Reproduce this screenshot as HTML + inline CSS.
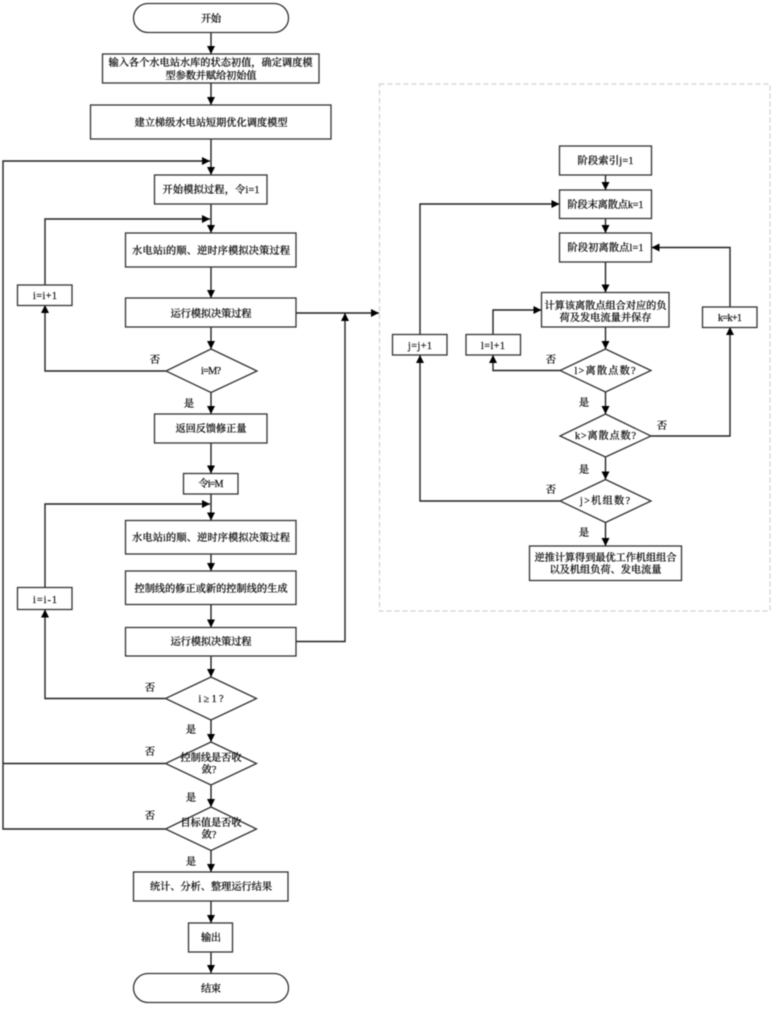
<!DOCTYPE html>
<html lang="zh">
<head>
<meta charset="utf-8">
<style>
html,body{margin:0;padding:0;background:#fff;width:777px;height:1011px;overflow:hidden}
svg{display:block;filter:blur(0.4px)}
text{font-family:"Liberation Serif","Noto Serif CJK SC",serif;font-size:10.2px;fill:#111;stroke:#111;stroke-width:.22;text-anchor:middle;font-weight:500}
.b{fill:#fff;stroke:#333;stroke-width:1.3}
.l{fill:none;stroke:#222;stroke-width:1.4}
.a{fill:#000;stroke:none}
.d{fill:none;stroke:#d0d0d0;stroke-width:1.2;stroke-dasharray:5 3}
</style>
</head>
<body>
<svg width="777" height="1011" viewBox="0 0 777 1011" xmlns="http://www.w3.org/2000/svg">
<defs>
<marker id="m" viewBox="0 0 8 8" refX="8" refY="4" markerWidth="8" markerHeight="8" markerUnits="userSpaceOnUse" orient="auto"><path class="a" d="M0 0L8 4L0 8Z"/></marker>
</defs>
<rect class="d" x="379.5" y="84" width="390.5" height="527"/>

<g class="l">
<path marker-end="url(#m)" d="M211 32V54"/>
<path marker-end="url(#m)" d="M211 83V105"/>
<path marker-end="url(#m)" d="M211 139V175"/>
<path marker-end="url(#m)" d="M211 204V233"/>
<path marker-end="url(#m)" d="M211 267V298"/>
<path marker-end="url(#m)" d="M211 327V349"/>
<path marker-end="url(#m)" d="M211 392V414"/>
<path marker-end="url(#m)" d="M211 443V473.5"/>
<path marker-end="url(#m)" d="M211 494V520.5"/>
<path marker-end="url(#m)" d="M211 554V571"/>
<path marker-end="url(#m)" d="M211 604.5V627.5"/>
<path marker-end="url(#m)" d="M211 656V677"/>
<path marker-end="url(#m)" d="M211 720V742"/>
<path marker-end="url(#m)" d="M211 785V807"/>
<path marker-end="url(#m)" d="M211 850.5V872"/>
<path marker-end="url(#m)" d="M211 901V923"/>
<path marker-end="url(#m)" d="M211 952V973"/>
<path marker-end="url(#m)" d="M165.5 829H3V161H210"/>
<path d="M165.5 763.5H3"/>
<path marker-end="url(#m)" d="M45 285V219H210"/>
<path marker-end="url(#m)" d="M166 371H45V305"/>
<path marker-end="url(#m)" d="M45 587.5V504H210"/>
<path marker-end="url(#m)" d="M165.5 698.5H45V609.5"/>
<path marker-end="url(#m)" d="M296 313H379"/>
<path marker-end="url(#m)" d="M296 641.5H345V313"/>
<path marker-end="url(#m)" d="M605.5 175V190"/>
<path marker-end="url(#m)" d="M605.5 218.5V233"/>
<path marker-end="url(#m)" d="M605.5 262V292.5"/>
<path marker-end="url(#m)" d="M605.5 327V349"/>
<path marker-end="url(#m)" d="M605.5 392V414"/>
<path marker-end="url(#m)" d="M605.5 457V479.5"/>
<path marker-end="url(#m)" d="M605.5 522V546"/>
<path marker-end="url(#m)" d="M420 334.5V204H559.5"/>
<path marker-end="url(#m)" d="M493 334.5V310H541.5"/>
<path marker-end="url(#m)" d="M730 307V247.5H651.5"/>
<path marker-end="url(#m)" d="M560 370.5H493V355"/>
<path marker-end="url(#m)" d="M651 436H730V327"/>
<path marker-end="url(#m)" d="M560 501H420V355"/>
</g>

<rect class="b" x="133.5" y="3.5" width="155" height="29" rx="14.5"/>
<rect class="b" x="102.5" y="54" width="216.5" height="29"/>
<rect class="b" x="90.5" y="105" width="240.5" height="34"/>
<rect class="b" x="154.5" y="175" width="112.5" height="29"/>
<rect class="b" x="125.5" y="233" width="170.5" height="34"/>
<rect class="b" x="17.5" y="285" width="54.5" height="20.5"/>
<rect class="b" x="125.5" y="298" width="170.5" height="29"/>
<polygon class="b" points="211,349 257,371 211,392.5 166,371"/>
<rect class="b" x="154.5" y="414" width="112.5" height="29"/>
<rect class="b" x="183.5" y="473.5" width="54.5" height="20.5"/>
<rect class="b" x="125.5" y="520.5" width="170.5" height="33.5"/>
<rect class="b" x="125.5" y="571" width="170.5" height="33.5"/>
<rect class="b" x="125.5" y="627.5" width="170.5" height="28.5"/>
<rect class="b" x="17.5" y="587.5" width="54.5" height="22"/>
<polygon class="b" points="211,677 256.5,698.5 211,720 165.5,698.5"/>
<polygon class="b" points="211,742 256.5,763.5 211,785 165.5,763.5"/>
<polygon class="b" points="211,807 256.5,829 211,850.5 165.5,829"/>
<rect class="b" x="133.5" y="872" width="154.5" height="29"/>
<rect class="b" x="188.5" y="923" width="44" height="29"/>
<rect class="b" x="133.5" y="973.5" width="155" height="29" rx="14.5"/>

<rect class="b" x="559.5" y="146" width="92" height="29"/>
<rect class="b" x="559.5" y="190" width="92" height="28.5"/>
<rect class="b" x="559.5" y="233" width="92" height="29"/>
<rect class="b" x="541.5" y="292.5" width="127.5" height="34.5"/>
<rect class="b" x="392.5" y="334.5" width="54.5" height="20.5"/>
<rect class="b" x="466" y="334.5" width="54.5" height="20.5"/>
<rect class="b" x="702.5" y="307" width="54.5" height="20.5"/>
<polygon class="b" points="605.5,349 651,370.5 605.5,392 560,370.5"/>
<polygon class="b" points="605.5,414 651,436 605.5,457 560,436"/>
<polygon class="b" points="605.5,479.5 651,501 605.5,522.5 560,501"/>
<rect class="b" x="529.5" y="546" width="152" height="34.5"/>

<text x="211" y="22" textLength="20">开始</text>
<text x="210.5" y="66" textLength="204">输入各个水电站水库的状态初值，确定调度模</text>
<text x="211" y="79" textLength="91">型参数并赋给初始值</text>
<text x="211" y="126" textLength="153">建立梯级水电站短期优化调度模型</text>
<text x="211" y="193" textLength="97">开始模拟过程，令i=1</text>
<text x="211" y="254" textLength="158">水电站i的顺、逆时序模拟决策过程</text>
<text x="45" y="299" textLength="24">i=i+1</text>
<text x="211" y="317" textLength="81">运行模拟决策过程</text>
<text x="155" y="363">否</text>
<text x="211" y="374" textLength="20">i=M?</text>
<text x="189" y="407">是</text>
<text x="211" y="432" textLength="71">返回反馈修正量</text>
<text x="211" y="487" textLength="25">令i=M</text>
<text x="211" y="541" textLength="158">水电站i的顺、逆时序模拟决策过程</text>
<text x="211" y="592" textLength="153">控制线的修正或新的控制线的生成</text>
<text x="211" y="645" textLength="81">运行模拟决策过程</text>
<text x="45" y="603" textLength="24">i=i-1</text>
<text x="150" y="691">否</text>
<text x="211" y="702" textLength="25">i≥1?</text>
<text x="191" y="733">是</text>
<text x="150" y="755">否</text>
<text x="211" y="761" textLength="61">控制线是否收</text>
<text x="209" y="773">敛?</text>
<text x="191" y="801">是</text>
<text x="150" y="819">否</text>
<text x="211" y="826" textLength="61">目标值是否收</text>
<text x="209" y="838">敛?</text>
<text x="191" y="865">是</text>
<text x="211" y="890" textLength="122">统计、分析、整理运行结果</text>
<text x="211" y="941" textLength="20">输出</text>
<text x="211" y="992" textLength="20">结束</text>

<text x="605.5" y="164" textLength="56">阶段索引j=1</text>
<text x="605.5" y="208" textLength="76">阶段末离散点k=1</text>
<text x="605.5" y="251" textLength="76">阶段初离散点l=1</text>
<text x="605.5" y="309" textLength="122">计算该离散点组合对应的负</text>
<text x="605.5" y="321" textLength="92">荷及发电流量并保存</text>
<text x="420" y="349" textLength="24">j=j+1</text>
<text x="493" y="349" textLength="24">l=l+1</text>
<text x="730" y="321" textLength="24">k=k+1</text>
<text x="551" y="363">否</text>
<text x="605" y="374" textLength="61">l&gt;离散点数?</text>
<text x="584" y="406">是</text>
<text x="605.5" y="439" textLength="61">k&gt;离散点数?</text>
<text x="662" y="429">否</text>
<text x="584" y="473">是</text>
<text x="551" y="493">否</text>
<text x="605" y="504" textLength="50">j&gt;机组数?</text>
<text x="584" y="536">是</text>
<text x="605.5" y="561" textLength="142">逆推计算得到最优工作机组组合</text>
<text x="605.5" y="573" textLength="112">以及机组负荷、发电流量</text>
</svg>
</body>
</html>
